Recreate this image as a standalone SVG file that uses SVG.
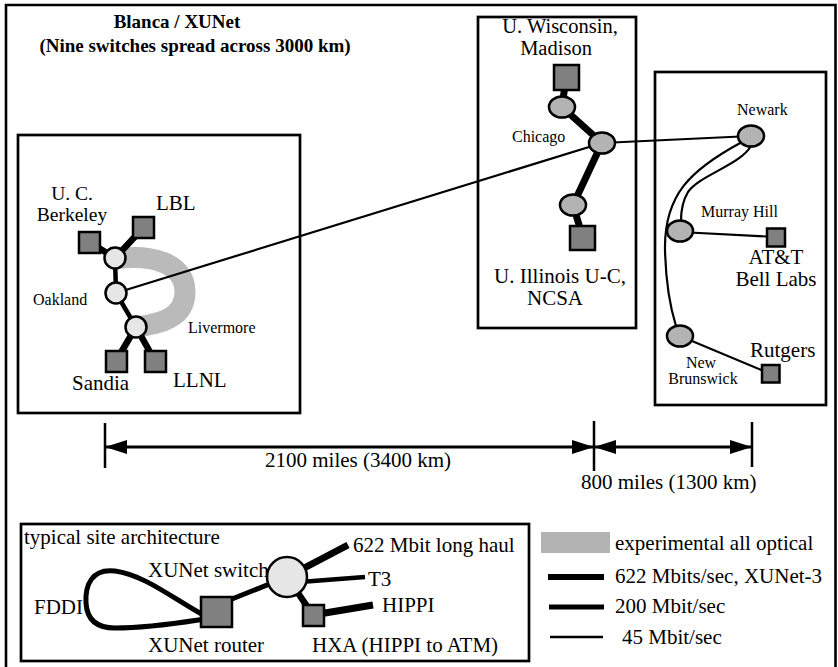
<svg xmlns="http://www.w3.org/2000/svg" width="838" height="667" viewBox="0 0 838 667">
<defs>
<style>
text{font-family:"Liberation Serif","Times New Roman",serif;fill:#000}
.lg{font-size:21px}
.sm{font-size:16px}
.tt{font-size:19px;font-weight:bold}
.box{fill:none;stroke:#000;stroke-width:2.7}
.sq{fill:#808080;stroke:#000;stroke-width:2.5}
.cl{fill:#e6e6e6;stroke:#000;stroke-width:2.5}
.cm{fill:#b3b3b3;stroke:#000;stroke-width:2.5}
.l622{stroke:#000;stroke-width:6.5;fill:none}
.l200{stroke:#000;stroke-width:4.5;fill:none}
.l45{stroke:#000;stroke-width:2.2;fill:none}
.opt{stroke:#bababa;stroke-width:21;fill:none}
</style>
<marker id="ah" viewBox="0 0 22 14" refX="21" refY="7" markerWidth="22" markerHeight="14" markerUnits="userSpaceOnUse" orient="auto-start-reverse">
<path d="M0,0 L22,7 L0,14 Z" fill="#000"/>
</marker>
</defs>
<rect width="838" height="667" fill="#fff"/>
<path d="M6 670 V5 H835.5 V670" fill="none" stroke="#000" stroke-width="2.6"/>

<g id="title">
<text class="tt" x="177" y="28" text-anchor="middle">Blanca / XUNet</text>
<text class="tt" x="195" y="52" text-anchor="middle">(Nine switches spread across 3000 km)</text>
</g>

<g id="boxes">
<rect class="box" x="18" y="135" width="282" height="278"/>
<rect class="box" x="478" y="17" width="158" height="311"/>
<rect class="box" x="655" y="72" width="171" height="333"/>
<rect class="box" x="21" y="524" width="508" height="137"/>
</g>

<g id="connectors">
<path class="opt" d="M115 259 C150 254 185 262 185 292 C185 318 160 324 136 327"/>
<line class="l622" x1="89" y1="242" x2="115" y2="258"/>
<line class="l622" x1="144" y1="227" x2="115" y2="258"/>
<line class="l200" x1="115" y1="258" x2="116" y2="293"/>
<line class="l200" x1="116" y1="293" x2="136" y2="327"/>
<line class="l622" x1="136" y1="327" x2="116" y2="361"/>
<line class="l622" x1="136" y1="327" x2="155" y2="361"/>
<line class="l45" x1="116" y1="293" x2="602" y2="143"/>
<line class="l622" x1="566" y1="78" x2="562" y2="107" style="stroke-width:7"/>
<line class="l622" x1="562" y1="107" x2="602" y2="143" style="stroke-width:7"/>
<line class="l622" x1="602" y1="143" x2="573" y2="205" style="stroke-width:7"/>
<line class="l622" x1="573" y1="205" x2="583" y2="238" style="stroke-width:7"/>
<line class="l45" x1="602" y1="143" x2="751" y2="136"/>
<path class="l45" d="M742 142 C690 170 664 195 665 250 C666 290 671 310 676 326"/>
<path class="l45" d="M751 146 C740 165 700 175 688 192 C682 202 681 212 681 221"/>
<line class="l45" x1="680" y1="232" x2="776" y2="237"/>
<line class="l45" x1="680" y1="336" x2="771" y2="374"/>
<path class="l200" style="stroke-width:5" d="M205 616 C175 600 145 575 115 571 C92 568 85 585 86 603 C87 620 97 628 115 628 C150 628 185 622 205 619"/>
<line class="l200" style="stroke-width:5" x1="222" y1="603" x2="287" y2="577"/>
<line class="l622" style="stroke-width:7" x1="287" y1="577" x2="348" y2="545"/>
<line class="l200" x1="287" y1="583" x2="365" y2="577"/>
<line class="l622" x1="287" y1="577" x2="313" y2="615"/>
<line class="l622" style="stroke-width:7" x1="313" y1="615" x2="373" y2="605"/>
<line x1="105" y1="423" x2="105" y2="468" stroke="#000" stroke-width="2.5"/>
<line x1="594" y1="421" x2="594" y2="471" stroke="#000" stroke-width="2.5"/>
<line x1="752" y1="422" x2="752" y2="467" stroke="#000" stroke-width="2.5"/>
<line x1="106" y1="447" x2="593" y2="447" stroke="#000" stroke-width="3" marker-start="url(#ah)" marker-end="url(#ah)"/>
<line x1="595" y1="447" x2="751" y2="447" stroke="#000" stroke-width="3" marker-start="url(#ah)" marker-end="url(#ah)"/>
</g>

<g id="n-berkeley"><rect class="sq" x="79" y="232" width="21" height="21"/><text class="lg" style="font-size:19.5px" x="72" y="200" text-anchor="middle">U. C.</text><text class="lg" style="font-size:19.5px" x="72" y="221" text-anchor="middle">Berkeley</text></g>
<g id="n-lbl"><rect class="sq" x="133" y="217" width="21" height="21"/><text class="lg" x="156" y="210">LBL</text></g>
<g id="n-sw1"><circle class="cl" cx="115" cy="258" r="10.5"/></g>
<g id="n-oakland"><circle class="cl" cx="116" cy="293" r="10.5"/><text class="sm" x="33" y="305">Oakland</text></g>
<g id="n-livermore"><circle class="cl" cx="136" cy="327" r="10.5"/><text class="sm" x="188" y="333">Livermore</text></g>
<g id="n-sandia"><rect class="sq" x="106" y="351" width="21" height="21"/><text class="lg" x="72" y="390">Sandia</text></g>
<g id="n-llnl"><rect class="sq" x="145" y="351" width="21" height="21"/><text class="lg" x="173" y="387">LLNL</text></g>

<g id="n-wisconsin"><rect class="sq" x="554" y="65" width="25" height="25"/><text class="lg" style="font-size:20.5px" x="560" y="33" text-anchor="middle">U. Wisconsin,</text><text class="lg" style="font-size:20.5px" x="556" y="55" text-anchor="middle">Madison</text></g>
<g id="n-sw2"><ellipse class="cm" cx="562" cy="107" rx="13" ry="10.5"/></g>
<g id="n-chicago"><ellipse class="cm" cx="602" cy="143" rx="13" ry="10.5"/><text class="sm" x="512" y="142">Chicago</text></g>
<g id="n-sw4"><ellipse class="cm" cx="573" cy="205" rx="13" ry="10.5"/></g>
<g id="n-illinois"><rect class="sq" x="570" y="226" width="25" height="24"/><text class="lg" x="560" y="283" text-anchor="middle">U. Illinois U-C,</text><text class="lg" x="555" y="305" text-anchor="middle">NCSA</text></g>

<g id="n-newark"><ellipse class="cm" cx="751" cy="136" rx="13" ry="10.5"/><text class="sm" x="737" y="115">Newark</text></g>
<g id="n-murrayhill"><ellipse class="cm" cx="680" cy="231" rx="13" ry="10.5"/><text class="sm" x="701" y="217">Murray Hill</text></g>
<g id="n-att"><rect class="sq" x="767" y="228.5" width="18" height="18"/><text class="lg" x="776" y="264" text-anchor="middle">AT&amp;T</text><text class="lg" x="776" y="286" text-anchor="middle">Bell Labs</text></g>
<g id="n-newbrunswick"><ellipse class="cm" cx="680" cy="336" rx="13" ry="10.5"/><text class="sm" x="701" y="368" text-anchor="middle">New</text><text class="sm" x="703" y="384" text-anchor="middle">Brunswick</text></g>
<g id="n-rutgers"><rect class="sq" x="762" y="365" width="17.5" height="17.5"/><text class="lg" x="750" y="357">Rutgers</text></g>

<g id="distance-labels">
<text class="lg" x="265" y="467">2100 miles (3400 km)</text>
<text class="lg" x="581" y="489">800 miles (1300 km)</text>
</g>

<g id="site-architecture">
<text class="lg" x="24" y="544">typical site architecture</text>
<g id="n-switch"><circle class="cl" cx="287" cy="577" r="20"/><text class="lg" x="148" y="577">XUNet switch</text></g>
<g id="n-router"><rect class="sq" x="201" y="597" width="31" height="30"/><text class="lg" x="148" y="652">XUNet router</text></g>
<g id="n-hxa"><rect class="sq" x="303" y="605" width="21" height="21"/><text class="lg" x="312" y="652">HXA (HIPPI to ATM)</text></g>
<text class="lg" x="34" y="614">FDDI</text>
<text class="lg" x="353" y="552">622 Mbit long haul</text>
<text class="lg" x="368" y="586">T3</text>
<text class="lg" x="382" y="612">HIPPI</text>
</g>

<g id="legend">
<rect x="541" y="532" width="69" height="21" fill="#b3b3b3"/>
<line x1="548" y1="577" x2="604" y2="577" stroke="#000" stroke-width="6"/>
<line x1="549" y1="607" x2="604" y2="607" stroke="#000" stroke-width="5"/>
<line x1="550" y1="637" x2="603" y2="637" stroke="#000" stroke-width="2.5"/>
<text class="lg" x="615" y="550">experimental all optical</text>
<text class="lg" x="615" y="583">622 Mbits/sec, XUNet-3</text>
<text class="lg" x="615" y="613">200 Mbit/sec</text>
<text class="lg" x="622" y="644">45 Mbit/sec</text>
</g>
</svg>
